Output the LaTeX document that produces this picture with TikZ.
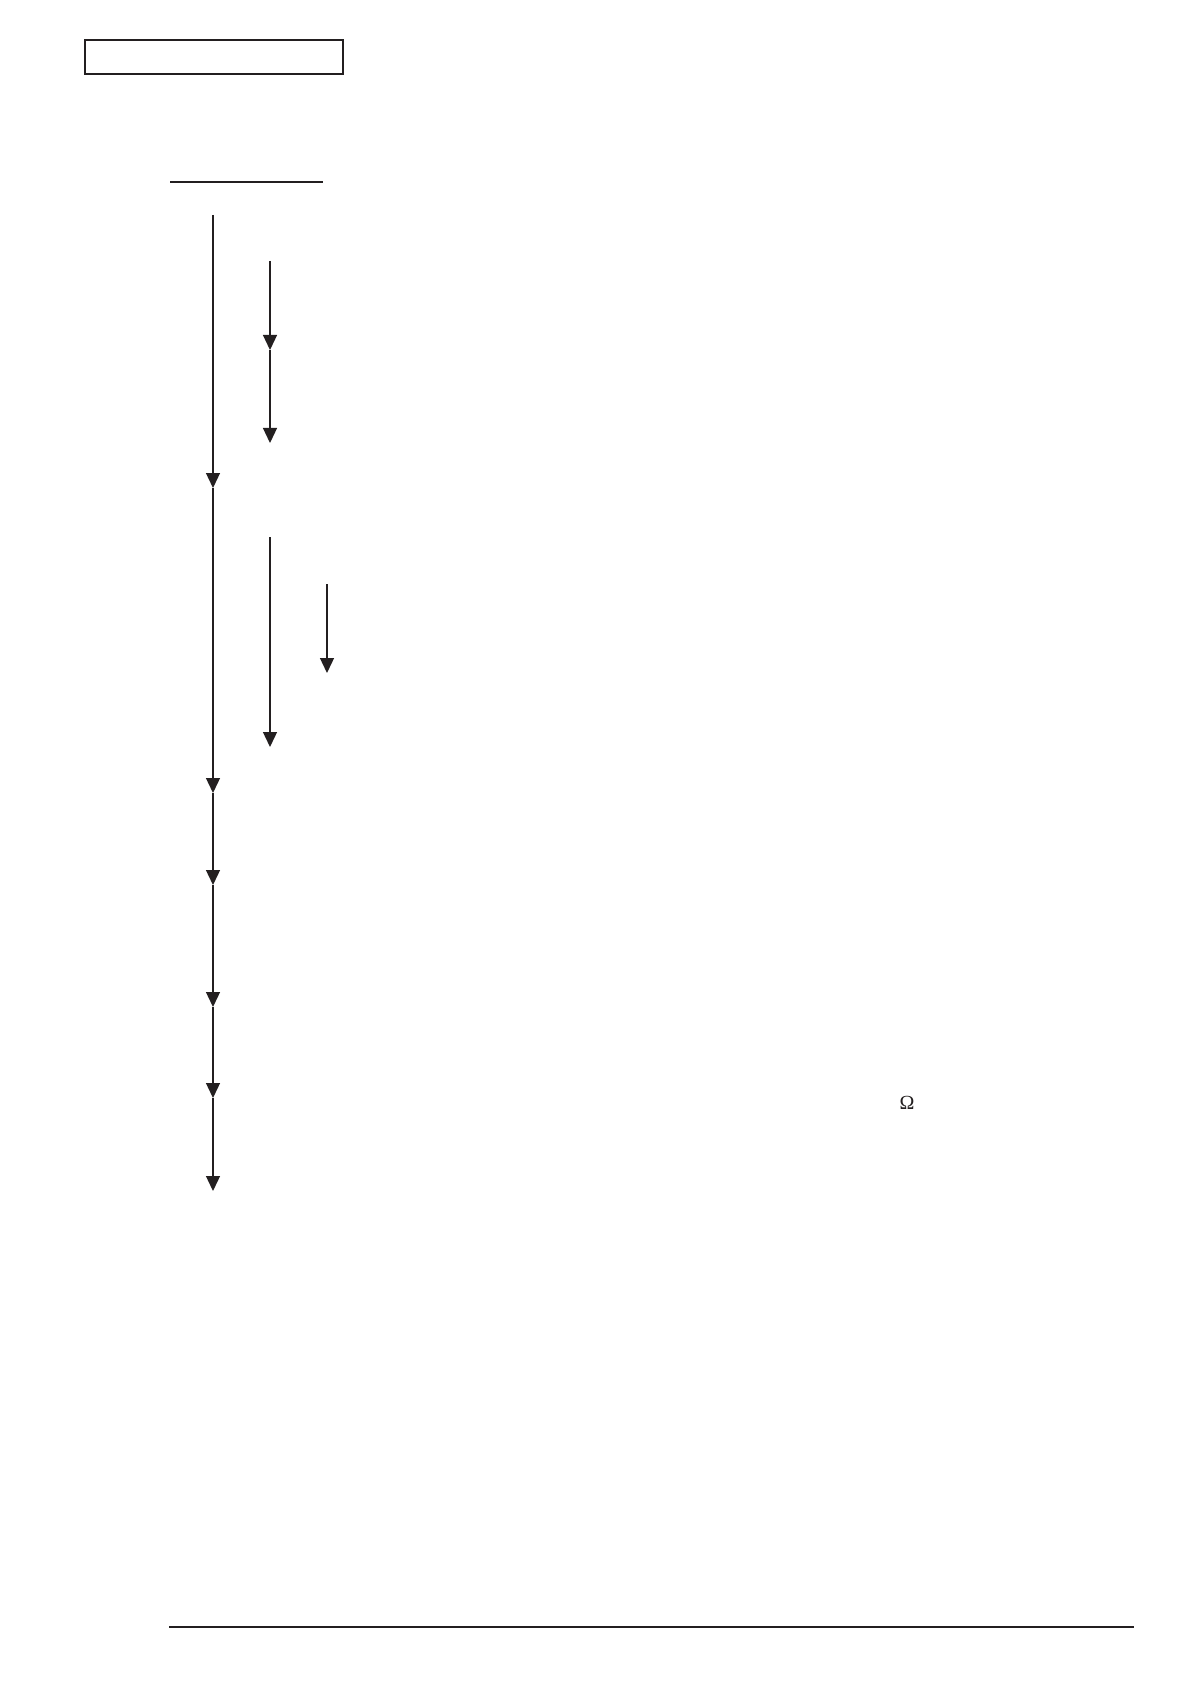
\documentclass[tikz,border=0pt]{standalone}
\usepackage{fontspec}
\newfontfamily\ohmfont{Liberation Serif}
\usepackage{tikz}
\usetikzlibrary{arrows.meta}
\definecolor{ink}{RGB}{35,31,32}
\tikzset{>={Triangle[width=7pt,length=7.5pt]}}

\begin{document}
\begin{tikzpicture}[x=0.5pt,y=-0.5pt,color=ink,line width=0.65pt]
\useasboundingbox (0,0) rectangle (1191,1684);
\draw [line width=0.8pt] (85,40) rectangle (343,74);
\draw (170,182) -- (323,182);
\draw [line width=0.8pt] (169,1627) -- (1134,1627);
% main chain
\coordinate (m0) at (213,215);
\coordinate (m1) at (213,488);
\coordinate (m2) at (213,793);
\coordinate (m3) at (213,885);
\coordinate (m4) at (213,1007);
\coordinate (m5) at (213,1098);
\coordinate (m6) at (213,1191);
\draw [->] (m0) -- (m1);
\draw [->] (m1) -- (m2);
\draw [->] (m2) -- (m3);
\draw [->] (m3) -- (m4);
\draw [->] (m4) -- (m5);
\draw [->] (m5) -- (m6);
% sub steps
\coordinate (a0) at (270,261);
\coordinate (a1) at (270,350);
\coordinate (a2) at (270,443);
\draw [->] (a0) -- (a1);
\draw [->] (a1) -- (a2);
\coordinate (b0) at (270,537);
\coordinate (b1) at (270,747);
\draw [->] (b0) -- (b1);
\coordinate (c0) at (327,584);
\coordinate (c1) at (327,673);
\draw [->] (c0) -- (c1);
\node [font=\ohmfont\fontsize{10}{12}\selectfont] (ohm) at (907,1103) {Ω};
\end{tikzpicture}
\end{document}
